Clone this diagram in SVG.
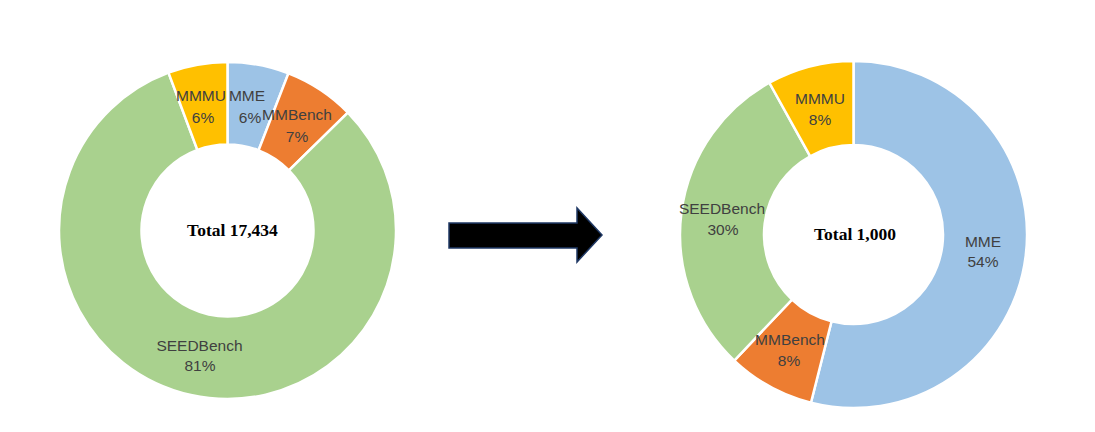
<svg xmlns="http://www.w3.org/2000/svg" width="1095" height="432" viewBox="0 0 1095 432">
<style>
.seg{stroke:#fff;stroke-width:2.5;stroke-linejoin:miter}
.mme{fill:#9DC3E6}.mmb{fill:#ED7D31}.seed{fill:#A9D18E}.mmmu{fill:#FFC000}
.lbl{font-family:"Liberation Sans",Arial,sans-serif;font-size:15.5px;fill:#404040;text-anchor:middle}
.tot{font-family:"Liberation Serif","Times New Roman",serif;font-size:17.5px;font-weight:bold;fill:#000;text-anchor:middle}
</style>
<rect width="1095" height="432" fill="#fff"/>
<g id="chart-left">
<g id="left-mme"><path class="seg mme" d="M227.5,62 A168.5,168.5 0 0 1 288.43,73.41 L258.6,150.32 A86,86 0 0 0 227.5,144.5 Z"/></g>
<g id="left-mmbench"><path class="seg mmb" d="M288.43,73.41 A168.5,168.5 0 0 1 347.89,112.6 L288.95,170.33 A86,86 0 0 0 258.6,150.32 Z"/></g>
<g id="left-seedbench"><path class="seg seed" d="M347.89,112.6 A168.5,168.5 0 1 1 168.49,72.67 L197.38,149.94 A86,86 0 1 0 288.95,170.33 Z"/></g>
<g id="left-mmmu"><path class="seg mmmu" d="M168.49,72.67 A168.5,168.5 0 0 1 227.5,62 L227.5,144.5 A86,86 0 0 0 197.38,149.94 Z"/></g>
<g id="left-labels">
<text class="lbl" x="201" y="101">MMMU</text><text class="lbl" x="203" y="123">6%</text>
<text class="lbl" x="247" y="101">MME</text><text class="lbl" x="250" y="123">6%</text>
<text class="lbl" x="297" y="119.5">MMBench</text><text class="lbl" x="297" y="142">7%</text>
<text class="lbl" x="199.5" y="351">SEEDBench</text><text class="lbl" x="200" y="371">81%</text>
<text class="tot" x="232.5" y="236">Total 17,434</text>
</g>
</g>
<g id="connectors">
<polygon id="arrow" points="449,223 577,223 577,208 602,235 577,262 577,248 449,248" fill="#000" stroke="#1F3864" stroke-width="1.5"/>
</g>
<g id="chart-right">
<g id="right-mme"><path class="seg mme" d="M853.5,61 A173.5,173.5 0 1 1 810.94,402.69 L831.55,321.26 A89.5,89.5 0 1 0 853.5,145 Z"/></g>
<g id="right-mmbench"><path class="seg mmb" d="M810.94,402.69 A173.5,173.5 0 0 1 734.31,360.57 L792.01,299.53 A89.5,89.5 0 0 0 831.55,321.26 Z"/></g>
<g id="right-seedbench"><path class="seg seed" d="M734.31,360.57 A173.5,173.5 0 0 1 769.39,82.76 L810.11,156.22 A89.5,89.5 0 0 0 792.01,299.53 Z"/></g>
<g id="right-mmmu"><path class="seg mmmu" d="M769.39,82.76 A173.5,173.5 0 0 1 853.5,61 L853.5,145 A89.5,89.5 0 0 0 810.11,156.22 Z"/></g>
<g id="right-labels">
<text class="lbl" x="820" y="103.5">MMMU</text><text class="lbl" x="820" y="125">8%</text>
<text class="lbl" x="790" y="345">MMBench</text><text class="lbl" x="789" y="366">8%</text>
<text class="lbl" x="722" y="213.5">SEEDBench</text><text class="lbl" x="723" y="235">30%</text>
<text class="lbl" x="983" y="247">MME</text><text class="lbl" x="983" y="267">54%</text>
<text class="tot" x="855" y="240">Total 1,000</text>
</g>
</g>
</svg>
